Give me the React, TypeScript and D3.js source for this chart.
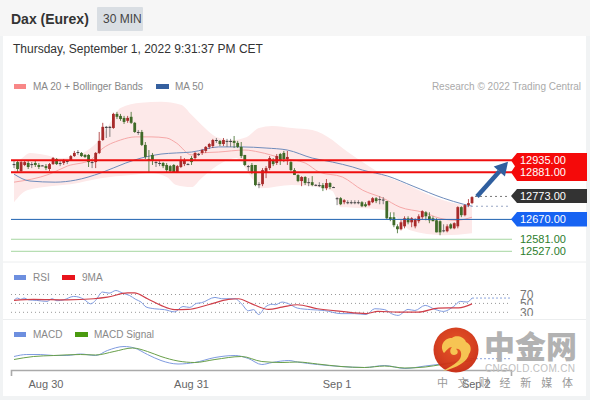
import React from "react";
import * as d3 from "d3";

const FONT = "'Liberation Sans', Arial, sans-serif";

const title = "Dax (Eurex)";
const interval = "30 MIN";
const stamp = "Thursday, September 1, 2022 9:31:37 PM CET";

const open = [12918,12927,12887,12914,12923,12918,12923,12914,12912,12909,12896,12918,12941,12923,12923,12932,12936,12954,12968,12968,12959,12959,12927,12927,12968,13026,13085,13080,13080,13143,13134,13125,13112,13130,13103,13062,13062,13004,12941,12959,12927,12923,12923,12914,12909,12914,12882,12905,12918,12918,12945,12945,12963,12968,12977,12995,12999,13026,13022,13008,13022,13022,13022,13013,12995,12959,12909,12914,12914,12828,12828,12882,12900,12936,12923,12963,12968,12941,12927,12891,12869,12842,12860,12837,12837,12824,12824,12824,12810,12833,12815,12765,12765,12747,12747,12747,12747,12747,12747,12738,12734,12747,12765,12761,12759,12752,12680,12680,12639,12626,12639,12675,12657,12639,12662,12680,12702,12684,12675,12666,12662,12621,12617,12648,12630,12639,12725,12689,12734,12743];
const high = [12932,12936,12936,12936,12932,12927,12936,12923,12914,12918,12923,12950,12945,12932,12941,12936,12959,12977,12981,12972,12963,12963,12936,12972,13062,13103,13089,13089,13148,13152,13143,13134,13134,13152,13107,13071,13071,13017,12981,12968,12936,12936,12927,12923,12914,12918,12914,12954,12945,12923,12954,12972,12968,12986,12999,13013,13031,13035,13026,13035,13031,13031,13044,13022,13017,12959,12914,12923,12914,12837,12900,12909,12954,12945,12963,12968,12977,12977,12936,12900,12873,12864,12864,12855,12864,12828,12837,12833,12851,12837,12817,12770,12770,12761,12756,12756,12756,12756,12752,12747,12756,12770,12770,12774,12770,12752,12702,12702,12648,12666,12684,12684,12680,12675,12693,12711,12707,12702,12684,12675,12666,12648,12648,12653,12657,12729,12729,12738,12761,12774];
const low = [12900,12882,12882,12909,12896,12900,12905,12896,12909,12891,12887,12914,12914,12909,12914,12918,12932,12950,12959,12950,12945,12905,12900,12900,12963,13022,13035,13040,13076,13120,13112,13098,13103,13098,13058,13049,12999,12941,12878,12914,12905,12909,12900,12882,12878,12882,12878,12900,12909,12914,12914,12932,12954,12959,12968,12986,12990,13013,12999,12999,12995,12995,12990,12990,12945,12909,12887,12873,12819,12810,12819,12855,12891,12909,12914,12914,12927,12914,12887,12869,12837,12819,12824,12819,12819,12819,12815,12797,12801,12806,12813,12734,12734,12738,12738,12738,12738,12738,12725,12725,12729,12743,12743,12738,12738,12671,12662,12635,12608,12621,12630,12648,12635,12630,12653,12671,12666,12653,12662,12612,12599,12612,12612,12626,12626,12630,12680,12684,12725,12738];
const close = [12914,12896,12927,12927,12905,12914,12914,12905,12910,12900,12918,12945,12918,12918,12932,12930,12954,12968,12972,12954,12950,12927,12923,12968,13022,13085,13080,13085,13143,13130,13120,13107,13125,13103,13062,13058,13004,12950,12932,12932,12925,12920,12909,12891,12887,12882,12909,12936,12936,12916,12927,12968,12959,12981,12995,13008,13026,13024,13008,13026,13020,13017,13013,12995,12954,12914,12905,12882,12824,12824,12891,12900,12945,12918,12954,12936,12941,12950,12891,12869,12842,12860,12833,12833,12824,12825,12819,12810,12833,12815,12815,12763,12738,12756,12745,12745,12745,12745,12729,12729,12752,12765,12752,12759,12757,12675,12671,12644,12626,12657,12675,12657,12675,12671,12684,12707,12684,12666,12662,12612,12612,12619,12639,12630,12653,12725,12689,12734,12743,12770];

const ma20: [number, number][] = [[0,12837],[10,12873],[15,12909],[21.6,12936],[24.4,12981],[30,13026],[34.3,13040],[38.6,13040],[43,13035],[45.7,13013],[50,12959],[52.8,12968],[57.6,12972],[65,12981],[69,12972],[75.5,12945],[82,12923],[86,12882],[92.5,12860],[98.2,12801],[104,12765],[108.7,12725],[115.2,12702],[120,12675],[124.6,12666],[129,12680]];
const ma50: [number, number][] = [[0,12873],[4.5,12842],[11.6,12837],[17.3,12846],[24.4,12878],[31.5,12923],[35.8,12945],[41.4,12963],[45.7,12968],[50,12972],[57.6,12995],[64,12995],[71,12990],[77,12981],[84,12945],[89.7,12927],[95.4,12905],[98.2,12891],[105.3,12864],[112.4,12819],[121,12765],[126.6,12738],[129,12729]];
const bandUpper: [number, number][] = [[0,12914],[2.3,12945],[4.5,12968],[8.8,12959],[13,12945],[17.3,12954],[21.6,12990],[24.4,13035],[27.2,13107],[30,13170],[35.8,13193],[41.4,13197],[47,13184],[50,13139],[52.8,13094],[57,13040],[61.3,13026],[65.6,13040],[69,13080],[72.7,13089],[78.3,13080],[84,13071],[89.7,13026],[92.5,12990],[98.2,12927],[104,12869],[109.6,12833],[115.2,12792],[121,12756],[126.6,12734],[129,12725]];
const bandLower: [number, number][] = [[0,12747],[3.7,12801],[10.2,12819],[15.9,12828],[24.4,12855],[32.9,12869],[38.6,12878],[43,12860],[45.7,12824],[50,12815],[52.8,12855],[58.5,12923],[62.7,12945],[67,12855],[69.8,12810],[78.3,12824],[86.9,12810],[89.7,12797],[92,12725],[99,12720],[104.7,12711],[108.7,12666],[111.6,12621],[121,12599],[129,12608]];

const rsi: [number, number][] = [[0,56.7],[1,62],[1.9,59],[2.8,62],[4.1,58],[6.4,56.7],[9.3,54.5],[10.7,60.5],[12.1,56],[14,58],[16.8,65.7],[18.3,64],[19.7,59],[21.6,49],[23,57],[24.9,75.5],[26.8,73],[28.7,79],[30.6,73],[32.5,68],[34.3,59],[35.8,53],[37.2,42],[39.5,38],[42.4,36],[45.2,31],[47.6,43],[49.5,41],[51.4,50],[52.8,51.5],[56.6,63.5],[58.5,60.5],[62.3,60.5],[64.1,49],[66,33.5],[67.5,36],[68.9,25],[70.8,42],[72.7,48],[73.6,47],[75.5,53],[77.4,49],[79.8,39.5],[83.6,36],[87.4,34],[92.1,27],[95.9,27],[99.2,25],[101.6,38],[104.4,36],[106.3,27],[108.2,23],[111,36.5],[112.9,34],[115.8,45.5],[118.6,36.5],[121,32],[123.8,43],[125.7,54.5],[127.6,53],[129,62]];
const rsiMa: [number, number][] = [[0,56.7],[5.5,59],[14.9,58],[22.5,60.5],[26.3,64],[32,73.5],[33.9,73.5],[37.6,60.5],[41.4,45.5],[45.2,36],[49,36.5],[54.7,47],[60.4,59],[63.2,60.5],[67,49],[71.7,36.5],[75.5,41.5],[79.8,47],[85.5,38],[92.1,32],[99.2,27],[102.5,32],[108.2,30.5],[113.9,30.5],[119.5,39.5],[125.2,40],[129,49]];
const macd: [number, number][] = [[0,11],[3.6,15],[7.4,15],[11.2,13],[14.9,13],[18.7,16],[23,13],[26.3,23],[31,31],[33.9,28],[37.6,15],[41.4,3],[46.2,-4],[50.9,-1],[56.6,9],[62.3,13],[66,7],[69.8,-5],[72.7,-1],[77.4,3],[79.8,0],[85.5,-5],[92.1,-9],[98.7,-11],[104.4,-7],[110.1,-13],[115.8,-8],[120.5,-4],[129,7]];
const macdSignal: [number, number][] = [[0,5],[5.5,11],[11.2,13],[18.7,15],[23,14],[28.2,21],[33.4,28],[37.6,21],[41.4,11],[46.2,2],[50.9,-1],[56.6,5],[64.1,11],[69.8,1],[75.5,-1],[79.8,0],[85.5,-4],[92.1,-9],[98.7,-11],[104.4,-8],[110.1,-12],[115.8,-10],[120.5,-5],[129,3]];

const resistance = [12935, 12881];
const pivot = 12773;
const support1 = 12670;
const supportGreen = [12581, 12527];
const rsiLevels = [70, 50, 30];
const dateTicks: [number, string][] = [[9, "Aug 30"], [50, "Aug 31"], [91, "Sep 1"], [130.2, "Sep 2"]];
const watermarkLine = "中 文 财 经 新 媒 体";

const x = d3.scaleLinear().domain([0, 129]).range([14, 472]);
const y = d3.scaleLinear().domain([12935, 12527]).range([160.3, 251.3]);
const yRsi = d3.scaleLinear().domain([70, 30]).range([294.5, 312.3]);
const yMacd = d3.scaleLinear().domain([0, 40]).range([362, 342]);

const RED = "#ee0f0f";
const path = (s: (v: number) => number, pts: [number, number][]) =>
  d3.line<[number, number]>().x((d) => x(d[0])).y((d) => s(d[1])).curve(d3.curveMonotoneX)(pts) as string;

const f = (n: number) => n.toFixed(2);

function Tag({ v, fill, y0, y1 }: { v: number; fill: string; y0: number; y1: number }) {
  return (
    <g>
      <path d={`M511 ${(y0 + y1) / 2}L517 ${y0}H587V${y1}H517Z`} fill={fill} />
      <text x={520} y={(y0 + y1) / 2 + 4} fontSize={11} fill="#fff">{f(v)}</text>
    </g>
  );
}

export default function App() {
  const band =
    path(y, bandUpper) +
    "L" +
    path(y, [...bandLower].reverse()).slice(1);
  const ax = x(129) + 5;
  const tipX = 508;
  const tipY = y(12935) + 1.5;
  const sy = y(pivot);
  const ang = Math.atan2(tipY - sy, tipX - ax);
  const headLen = 13;
  const headW = 7.5;
  const bx = tipX - Math.cos(ang) * headLen;
  const by = tipY - Math.sin(ang) * headLen;
  const nx = -Math.sin(ang) * headW;
  const ny = Math.cos(ang) * headW;
  const axisY = 370.5;
  return (
    <svg width={590} height={400} style={{ position: "fixed", left: 0, top: 0, fontFamily: FONT }}>
      <defs>
        <clipPath id="c50"><rect x={510} y={296} width={40} height={9} /></clipPath>
        <clipPath id="c30"><rect x={510} y={305} width={40} height={11} /></clipPath>
        <radialGradient id="logo" cx="50%" cy="40%" r="60%">
          <stop offset="0%" stopColor="#e8501c" />
          <stop offset="100%" stopColor="#c92a12" />
        </radialGradient>
      </defs>
      <rect width={590} height={400} fill="#f1f3f4" />
      <rect x={3} y={36} width={583} height={360} fill="#fff" />
      <rect x={0} y={0} width={590} height={36} fill="#f6f6f6" />
      <line x1={3} x2={586} y1={262} y2={262} stroke="#eceeef" />
      <line x1={3} x2={586} y1={319.5} y2={319.5} stroke="#eceeef" />

      <text x={11} y={24} fontSize={14} fontWeight={700} fill="#333">{title}</text>
      <rect x={97} y={7} width={46} height={24} fill="#d9dee3" rx={1} />
      <text x={103} y={23} fontSize={12} fill="#444">{interval}</text>
      <text x={13} y={53} fontSize={12} fill="#333">{stamp}</text>

      <rect x={14} y={84} width={12} height={5} fill="#f88787" />
      <text x={33} y={90} fontSize={10} fill="#888">MA 20 + Bollinger Bands</text>
      <rect x={156} y={84} width={13} height={5} fill="#35609f" />
      <text x={175} y={90} fontSize={10} fill="#888">MA 50</text>
      <text x={581} y={90} fontSize={10} fill="#aaa" textAnchor="end">Research © 2022 Trading Central</text>

      <path d={band} fill="#fde9e9" />
      <path d={path(y, ma20)} fill="none" stroke="#f6a8a8" strokeWidth={1} />
      <path d={path(y, ma50)} fill="none" stroke="#6f8cbc" strokeWidth={1} />

      {open.map((o, i) => {
        const c = close[i];
        const t = y(Math.max(o, c));
        const b = y(Math.min(o, c));
        const up = c > o;
        const doji = b - t < 1.2;
        const col = doji ? "#444" : up ? "#a82a2a" : "#3f6a28";
        return (
          <g key={i}>
            <line x1={x(i)} x2={x(i)} y1={y(high[i])} y2={y(low[i])} stroke={doji ? "#666" : col} strokeOpacity={0.8} />
            <rect x={x(i) - 1.4} y={t} width={2.8} height={Math.max(b - t, 1)} fill={col} />
          </g>
        );
      })}

      {resistance.map((v) => (
        <line key={v} x1={11} x2={512} y1={y(v)} y2={y(v)} stroke={RED} strokeWidth={2} />
      ))}
      <line x1={11} x2={512} y1={y(support1)} y2={y(support1)} stroke="#1f62b0" strokeWidth={1} />
      {supportGreen.map((v) => (
        <line key={v} x1={11} x2={512} y1={y(v)} y2={y(v)} stroke="#a5d6a0" strokeWidth={1} />
      ))}
      <line x1={475} x2={510} y1={y(pivot)} y2={y(pivot)} stroke="#777" strokeDasharray="2 3" />
      <line x1={466} x2={510} y1={y(12729)} y2={y(12729)} stroke="#99a6c4" strokeDasharray="2 3" />

      <line x1={ax} y1={sy} x2={bx} y2={by} stroke="#2f5f9f" strokeWidth={4.5} />
      <path d={`M${tipX} ${tipY}L${bx + nx} ${by + ny}L${bx - nx} ${by - ny}Z`} fill="#2f5f9f" />

      <path d={`M511 160.3L517 153H587V181H517L511 172.3L515 166.3Z`} fill="#f50a0a" />
      <text x={520} y={164} fontSize={11} fill="#fff">{f(resistance[0])}</text>
      <text x={520} y={176} fontSize={11} fill="#fff">{f(resistance[1])}</text>
      <Tag v={pivot} fill="#333" y0={189} y1={203} />
      <Tag v={support1} fill="#1763f2" y0={212} y1={226.5} />
      {supportGreen.map((v) => (
        <text key={v} x={520} y={y(v) + 4} fontSize={11} fill="#2c7d2c">{f(v)}</text>
      ))}

      <rect x={14} y={275} width={12} height={5} fill="#6d8fdf" />
      <text x={33} y={281} fontSize={10} fill="#888">RSI</text>
      <rect x={62} y={275} width={13} height={5} fill="#e8141c" />
      <text x={82} y={281} fontSize={10} fill="#888">9MA</text>
      {rsiLevels.map((v) => (
        <line key={v} x1={11} x2={508} y1={yRsi(v)} y2={yRsi(v)} stroke="#999" strokeDasharray="1 3" />
      ))}
      <line x1={472} x2={510} y1={yRsi(62)} y2={yRsi(62)} stroke="#8fa6dd" strokeDasharray="2 2" />
      <path d={path(yRsi, rsi)} fill="none" stroke="#7f9be0" strokeWidth={1} />
      <path d={path(yRsi, rsiMa)} fill="none" stroke="#cf3f4a" strokeWidth={1.2} />
      <text x={520} y={298.5} fontSize={12} fill="#777">{rsiLevels[0]}</text>
      <text x={520} y={308} fontSize={12} fill="#777" clipPath="url(#c50)">{rsiLevels[1]}</text>
      <text x={520} y={317} fontSize={12} fill="#777" clipPath="url(#c30)">{rsiLevels[2]}</text>

      <rect x={14} y={332} width={12} height={5} fill="#6d8fdf" />
      <text x={33} y={338} fontSize={10} fill="#888">MACD</text>
      <rect x={75} y={332} width={13} height={5} fill="#4a9a10" />
      <text x={94} y={338} fontSize={10} fill="#888">MACD Signal</text>
      <line x1={472} x2={510} y1={358.7} y2={358.7} stroke="#8fa6dd" strokeDasharray="2 2" />
      <path d={path(yMacd, macd)} fill="none" stroke="#7f9be0" strokeWidth={1} />
      <path d={path(yMacd, macdSignal)} fill="none" stroke="#69a04a" strokeWidth={1} />

      <path d={`M11.5 376V${axisY}H511.5V376`} fill="none" stroke="#aaa" strokeWidth={1.6} />
      {dateTicks.map(([b, l]) => (
        <text key={l} x={x(b)} y={388} fontSize={11} fill="#666" textAnchor="middle">{l}</text>
      ))}

      <g opacity={0.95}>
        <circle cx={456} cy={350} r={22.5} fill="url(#logo)" />
        <path d="M444 353c-5-7 0-15 8-15c3-3 12-2 14 4c5 2 6 8 3 12c-1 7-12 14-26 17c8-5 17-9 18-15c1-5-2-8-5-7c3 2 2 6-2 6c-4 0-5-5-2-8c-3 0-5 3-8 6z" fill="#f6c14a" />
      </g>
      <text x={484} y={358} fontSize={31} fontWeight={900} fill="#b2b2b2" style={{ fontFamily: "'Noto Sans CJK SC'" }}>中金网</text>
      <text x={485} y={372} fontSize={10} fill="#c0c0c0" textLength={90}>CNGOLD.COM.CN</text>
      <text x={437} y={387} fontSize={11} fill="#999" style={{ fontFamily: "'Noto Sans CJK SC'" }} textLength={136}>{watermarkLine}</text>
    </svg>
  );
}
